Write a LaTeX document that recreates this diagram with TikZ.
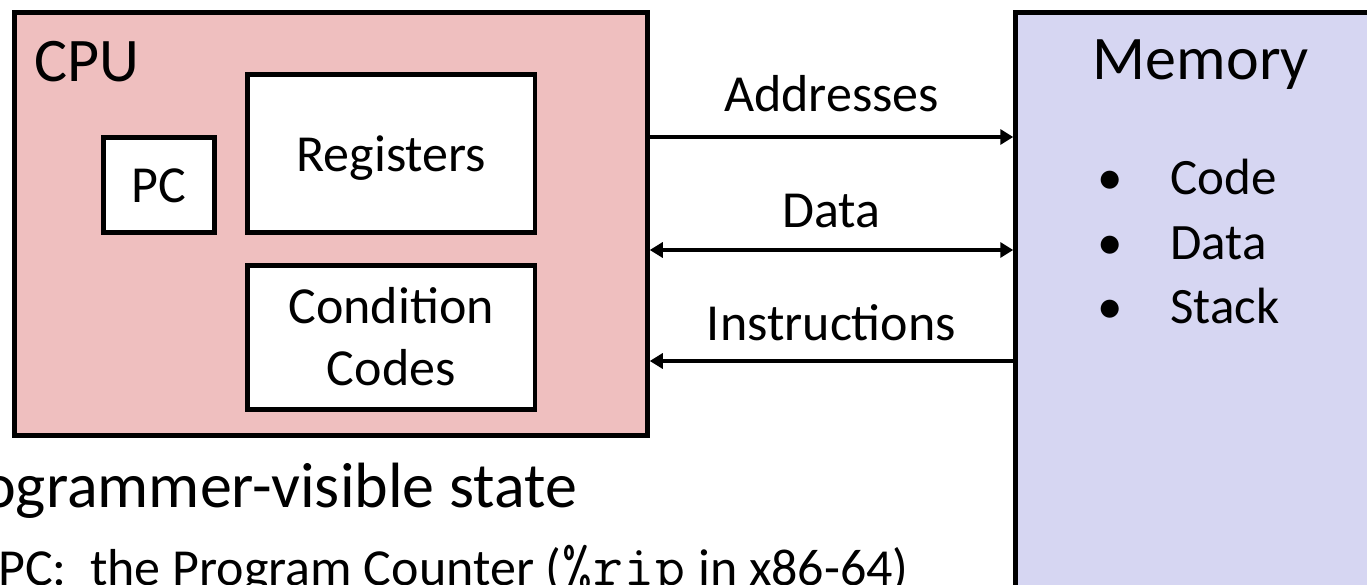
\documentclass[tikz,border=0pt]{standalone}
\usepackage{fontspec}
\setmainfont{Carlito}
\usetikzlibrary{arrows.meta}
\definecolor{cpupink}{RGB}{239,191,191}
\definecolor{memblue}{RGB}{214,214,242}
\newcommand\monoch[1]{\makebox[31.2pt]{#1}}
\tikzset{
  box/.style={draw=black, line width=4.5pt, rectangle, inner sep=0pt},
  conn/.style={line width=4pt, draw=black},
  tipR/.style={-{Triangle[length=13pt,width=15pt]}},
  tipL/.style={{Triangle[length=13pt,width=15pt]}-},
  tipLR/.style={{Triangle[length=13pt,width=15pt]}-{Triangle[length=13pt,width=15pt]}},
  titletxt/.style={font=\fontsize{62}{74}\selectfont, inner sep=0pt},
  boxtxt/.style={font=\fontsize{52}{62}\selectfont, inner sep=0pt},
  listtxt/.style={font=\fontsize{51}{62}\selectfont, inner sep=0pt},
  headtxt/.style={font=\fontsize{64}{76}\selectfont, inner sep=0pt},
  bodytxt/.style={font=\fontsize{52}{62}\selectfont, inner sep=0pt}
}
\begin{document}
\begin{tikzpicture}[x=1pt,y=-1pt]
\useasboundingbox (0,0) rectangle (1367,585);
\clip (0,0) rectangle (1367,585);
\fill[white] (0,0) rectangle (1367,585);

% CPU
\node[box, fill=cpupink, minimum width=633pt, minimum height=423pt] (cpu) at (331,224) {};
\node[titletxt, anchor=base west] (cputxt) at (34,82) {CPU};
\node[box, fill=white, minimum width=111pt, minimum height=95pt] (pc) at (159,185) {};
\node[boxtxt, anchor=base] (pctxt) at (159,203) {PC};
\node[box, fill=white, minimum width=287.5pt, minimum height=158pt] (reg) at (391.25,153.5) {};
\node[boxtxt, anchor=base] (regtxt) at (391.25,172) {Registers};
\node[box, fill=white, minimum width=287.5pt, minimum height=144pt] (cc) at (391.25,337.5) {};
\node[boxtxt, anchor=base] (cctxta) at (391.25,323) {Condition};
\node[boxtxt, anchor=base] (cctxtb) at (391.25,385) {Codes};

% Memory
\node[box, fill=memblue, minimum width=384.5pt, minimum height=607.5pt] (mem) at (1207.75,316.25) {};
\node[titletxt, anchor=base] (memtxt) at (1201,80) {Memory};
\node[listtxt, anchor=base] (b1) at (1110,195) {•};
\node[listtxt, anchor=base west] (l1) at (1170,195) {Code};
\node[listtxt, anchor=base] (b2) at (1110,260) {•};
\node[listtxt, anchor=base west] (l2) at (1170,260) {Data};
\node[listtxt, anchor=base] (b3) at (1110,323) {•};
\node[listtxt, anchor=base west] (l3) at (1170,323) {Stack};

% connectors
\coordinate (ya) at (0,137);
\coordinate (yd) at (0,250);
\coordinate (yi) at (0,361);
\draw[conn, tipR] (cpu.east |- ya) -- (mem.west |- ya);
\draw[conn, tipLR] (cpu.east |- yd) -- (mem.west |- yd);
\draw[conn, tipL] (cpu.east |- yi) -- (mem.west |- yi);
\node[boxtxt, anchor=base] (addrtxt) at (831.5,112) {Addresses};
\node[boxtxt, anchor=base] (datatxt) at (831.5,228) {Data};
\node[boxtxt, anchor=base] (instrtxt) at (831.5,340) {Instructions};

% text below
\node[headtxt, anchor=base east] (state) at (577,507) {Programmer-visible state};
\node[bodytxt, anchor=base west] (pcline) at (-2,585) {PC:\ \ the Program Counter ({\ttfamily\fontsize{58}{62}\selectfont\monoch{\%}\monoch{r}\monoch{i}\monoch{p}} in x86-64)};
\end{tikzpicture}
\end{document}
